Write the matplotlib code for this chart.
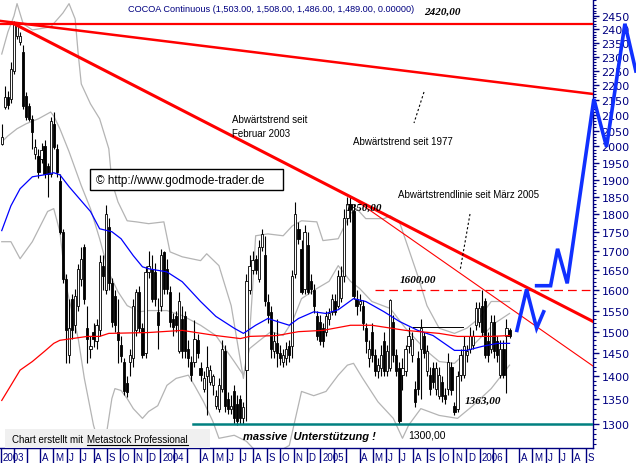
import matplotlib
matplotlib.use('Agg')
import matplotlib.pyplot as plt
import matplotlib.dates as mdates
import matplotlib.transforms as mtransforms
from matplotlib.patches import Rectangle
from matplotlib.ticker import FixedLocator, NullFormatter, FuncFormatter
import numpy as np
import pandas as pd

# weekly candles COCOA continuous, Jan 2003 - Mar 2006
opens = [2008, 2126, 2160, 2153, 2249, 2374, 2352, 2316, 2163, 2130,
         2088, 1977, 1971, 1962, 2002, 1940, 1917, 2072, 1993, 1896,
         1752, 1629, 1446, 1579, 1515, 1562, 1629, 1712, 1508, 1461,
         1500, 1478, 1503, 1662, 1600, 1765, 1617, 1586, 1500, 1470,
         1432, 1385, 1432, 1439, 1503, 1596, 1508, 1450, 1646, 1654,
         1646, 1547, 1560, 1698, 1654, 1596, 1530, 1538, 1455, 1531,
         1538, 1460, 1432, 1432, 1480, 1417, 1373, 1400, 1388, 1380,
         1337, 1331, 1373, 1455, 1350, 1331, 1367, 1340, 1352, 1311,
         1413, 1600, 1650, 1680, 1629, 1710, 1690, 1570, 1547, 1455,
         1474, 1450, 1432, 1439, 1468, 1468, 1640, 1760, 1706, 1604,
         1715, 1622, 1600, 1538, 1523, 1508, 1500, 1530, 1547, 1572,
         1562, 1580, 1636, 1790, 1830, 1810, 1579, 1565, 1560, 1508,
         1439, 1500, 1446, 1410, 1417, 1478, 1410, 1417, 1523, 1446,
         1417, 1402, 1410, 1468, 1446, 1373, 1439, 1461, 1490, 1410,
         1402, 1417, 1373, 1358, 1388, 1360, 1373, 1420, 1337, 1330,
         1402, 1402, 1446, 1461, 1470, 1515, 1523, 1562, 1572, 1478,
         1461, 1523, 1478, 1402, 1461, 1491, 1503]
highs = [2070, 2197, 2180, 2280, 2430, 2425, 2390, 2340, 2175, 2140,
         2100, 2024, 1993, 2010, 2020, 1950, 2094, 2110, 2008, 1917,
         1760, 1641, 1579, 1591, 1604, 1667, 1712, 1719, 1562, 1490,
         1520, 1530, 1690, 1690, 1825, 1790, 1630, 1600, 1579, 1490,
         1440, 1400, 1460, 1579, 1604, 1610, 1520, 1660, 1700, 1690,
         1670, 1580, 1706, 1700, 1680, 1610, 1545, 1550, 1596, 1560,
         1550, 1480, 1445, 1527, 1495, 1430, 1410, 1468, 1425, 1405,
         1370, 1395, 1480, 1470, 1365, 1360, 1380, 1360, 1360, 1345,
         1640, 1690, 1700, 1690, 1730, 1760, 1740, 1590, 1560, 1500,
         1530, 1470, 1460, 1475, 1480, 1650, 1835, 1780, 1730, 1770,
         1750, 1640, 1615, 1550, 1540, 1520, 1550, 1555, 1590, 1590,
         1650, 1660, 1816, 1850, 1850, 1830, 1600, 1590, 1575, 1520,
         1480, 1520, 1460, 1440, 1470, 1500, 1470, 1579, 1540, 1460,
         1430, 1440, 1470, 1510, 1500, 1390, 1455, 1530, 1500, 1470,
         1420, 1430, 1430, 1420, 1400, 1375, 1450, 1430, 1345, 1410,
         1460, 1490, 1470, 1510, 1505, 1570, 1570, 1600, 1580, 1500,
         1540, 1540, 1490, 1480, 1480, 1530, 1508]
lows = [2005, 2120, 2120, 2140, 2240, 2363, 2340, 2120, 2085, 2080,
        1993, 1962, 1905, 1950, 1905, 1850, 1908, 1993, 1908, 1746,
        1617, 1428, 1428, 1484, 1496, 1550, 1610, 1567, 1428, 1440,
        1465, 1460, 1490, 1600, 1590, 1600, 1510, 1500, 1428, 1430,
        1360, 1355, 1400, 1420, 1490, 1500, 1440, 1440, 1630, 1570,
        1560, 1460, 1550, 1590, 1590, 1510, 1490, 1500, 1450, 1440,
        1440, 1420, 1390, 1420, 1440, 1390, 1365, 1317, 1380, 1360,
        1330, 1325, 1365, 1325, 1320, 1320, 1300, 1298, 1300, 1300,
        1305, 1590, 1640, 1640, 1620, 1700, 1560, 1520, 1440, 1440,
        1420, 1425, 1420, 1425, 1430, 1440, 1630, 1720, 1590, 1590,
        1590, 1590, 1545, 1480, 1470, 1465, 1490, 1515, 1540, 1540,
        1555, 1570, 1620, 1770, 1780, 1579, 1540, 1550, 1505, 1450,
        1420, 1430, 1400, 1395, 1400, 1400, 1400, 1410, 1430, 1400,
        1300, 1370, 1400, 1450, 1430, 1335, 1360, 1350, 1440, 1400,
        1360, 1375, 1360, 1350, 1345, 1340, 1360, 1360, 1318, 1325,
        1390, 1395, 1430, 1450, 1460, 1505, 1510, 1490, 1440, 1430,
        1450, 1440, 1430, 1395, 1395, 1363, 1486]
closes = [2030, 2160, 2133, 2256, 2420, 2412, 2374, 2130, 2095, 2088,
          2046, 1999, 1923, 1990, 1917, 1917, 2082, 1999, 1923, 1752,
          1629, 1503, 1508, 1503, 1586, 1654, 1680, 1579, 1484, 1468,
          1484, 1515, 1672, 1636, 1800, 1617, 1523, 1515, 1480, 1445,
          1367, 1365, 1446, 1562, 1596, 1508, 1446, 1646, 1660, 1579,
          1579, 1515, 1690, 1604, 1604, 1523, 1510, 1515, 1572, 1455,
          1455, 1440, 1402, 1484, 1450, 1402, 1395, 1420, 1413, 1400,
          1358, 1380, 1461, 1337, 1330, 1337, 1311, 1305, 1311, 1335,
          1622, 1660, 1676, 1650, 1712, 1745, 1572, 1540, 1461, 1478,
          1450, 1440, 1446, 1461, 1446, 1636, 1800, 1733, 1596, 1752,
          1596, 1604, 1560, 1491, 1478, 1478, 1538, 1545, 1579, 1547,
          1636, 1636, 1790, 1830, 1816, 1586, 1560, 1572, 1520, 1478,
          1461, 1446, 1410, 1425, 1446, 1410, 1455, 1575, 1446, 1410,
          1305, 1417, 1460, 1491, 1484, 1345, 1373, 1508, 1450, 1455,
          1373, 1388, 1417, 1402, 1358, 1350, 1432, 1370, 1325, 1400,
          1446, 1468, 1455, 1491, 1491, 1555, 1555, 1500, 1446, 1446,
          1523, 1455, 1446, 1461, 1402, 1508, 1489]

# indicator lines, sampled at week numbers
blue_wk = [0, 3, 6, 10, 14, 17, 19, 22, 26, 29, 32, 36, 39, 43, 46, 48, 54, 59, 65, 70,
           76, 79, 83, 87, 90, 94, 97, 102, 106, 110, 115, 119, 125, 130, 136, 141, 148,
           152, 157, 162, 166]
blue_ma = [1755, 1824, 1873, 1908, 1914, 1920, 1914, 1879, 1838, 1808, 1760, 1752, 1733,
           1688, 1659, 1654, 1646, 1621, 1572, 1536, 1508, 1496, 1515, 1531, 1524, 1515,
           1531, 1547, 1543, 1552, 1579, 1572, 1547, 1524, 1503, 1491, 1457, 1457, 1466,
           1473, 1473]
red_wk = [0, 3, 6, 10, 14, 17, 19, 23, 28, 32, 35, 48, 59, 70, 78, 81, 90, 97, 105, 114,
          121, 132, 143, 149, 160, 166]
red_ma = [1348, 1380, 1413, 1432, 1455, 1473, 1480, 1484, 1489, 1489, 1496, 1498, 1503,
          1491, 1484, 1489, 1491, 1500, 1503, 1515, 1515, 1503, 1496, 1489, 1489, 1491]
upper_wk = [0, 2, 4, 5, 7, 10, 16, 20, 22, 24, 25, 26, 29, 32, 35, 36, 38, 41, 44, 48, 53,
            55, 59, 65, 67, 71, 75, 79, 81, 82, 83, 87, 92, 95, 98, 103, 105, 110, 114,
            116, 119, 125, 127, 130, 133, 136, 139, 143, 148, 152, 156, 160, 166]
upper_band = [2309, 2389, 2450, 2497, 2420, 2397, 2408, 2461, 2497, 2438, 2309, 2204,
              2137, 2088, 1993, 1893, 1835, 1782, 1779, 1774, 1779, 1698, 1685, 1675,
              1693, 1662, 1562, 1395, 1491, 1604, 1741, 1746, 1741, 1768, 1782, 1779,
              1728, 1733, 1802, 1816, 1788, 1788, 1796, 1779, 1706, 1636, 1562, 1508,
              1496, 1508, 1531, 1572, 1572]
mid_wk = [0, 2, 5, 8, 12, 16, 17, 19, 22, 26, 29, 32, 35, 38, 41, 45, 48, 54, 59, 65, 70,
          76, 79, 81, 84, 88, 92, 95, 98, 103, 107, 110, 114, 117, 121, 127, 132, 139,
          143, 148, 154, 161, 166]
mid_band = [2014, 2033, 2056, 2072, 2088, 2110, 2097, 2056, 1984, 1882, 1816, 1733, 1644,
            1596, 1562, 1547, 1550, 1550, 1538, 1515, 1491, 1432, 1402, 1461, 1478, 1500,
            1491, 1524, 1579, 1604, 1622, 1662, 1622, 1604, 1572, 1555, 1508, 1455, 1432,
            1428, 1468, 1519, 1543]
lower_wk = [0, 3, 6, 10, 15, 17, 19, 21, 25, 27, 30, 32, 34, 36, 37, 39, 41, 43, 46, 48,
            51, 54, 57, 61, 63, 66, 69, 71, 76, 80, 84, 89, 94, 98, 102, 106, 110, 113,
            115, 118, 123, 128, 131, 133, 137, 143, 149, 154, 160, 166]
lower_band = [1725, 1725, 1680, 1725, 1808, 1816, 1752, 1612, 1484, 1395, 1297, 1257,
              1271, 1352, 1373, 1369, 1352, 1331, 1311, 1325, 1337, 1380, 1395, 1402,
              1380, 1345, 1305, 1271, 1277, 1265, 1240, 1240, 1257, 1367, 1358, 1367,
              1402, 1424, 1428, 1395, 1345, 1311, 1271, 1297, 1331, 1317, 1311, 1337,
              1373, 1424]

# hand drawn projection (blue)
proj1_dates = ['2006-03-27', '2006-04-18', '2006-05-11', '2006-05-27']
proj1_vals = [1503, 1602, 1508, 1547]
proj2_dates = ['2006-05-11', '2006-06-12', '2006-06-28', '2006-07-20',
               '2006-09-19', '2006-10-18', '2006-11-29', '2006-12-24']
proj2_vals = [1611, 1611, 1706, 1617, 2153, 1999, 2420, 2249]

W, H = 636, 464
NAVY = '#000080'
fig = plt.figure(figsize=(W / 100, H / 100), dpi=100)
ax = fig.add_axes([0, 15 / H, 593 / W, 449 / H])

def px(x, y):
    return x / W, 1 - y / H

weeks = mdates.date2num(pd.date_range('2003-01-03', periods=len(closes), freq='W-FRI'))
o, h, l, c = map(np.array, (opens, highs, lows, closes))

xmin = mdates.datestr2num('2002-12-30')
xmax = xmin + 1357
ax.set_yscale('log')
ax.set_xlim(xmin, xmax)
ax.set_ylim(1252, 2515)

# bands and averages
gray = '#b4b4b4'
ax.plot(weeks[upper_wk], upper_band, color=gray, lw=0.9, zorder=1)
ax.plot(weeks[mid_wk], mid_band, color=gray, lw=0.9, zorder=1)
ax.plot(weeks[lower_wk], lower_band, color=gray, lw=0.9, zorder=1)

# candles
up = c >= o
ax.vlines(weeks, l, h, color='black', lw=0.8, zorder=2)
ax.bar(weeks, np.maximum(np.abs(c - o), 1), bottom=np.minimum(o, c), width=5,
       color=np.where(up, 'white', 'black'), edgecolor='black', lw=0.6, zorder=3)

ax.plot(weeks[blue_wk], blue_ma, color='#0000ff', lw=0.9, zorder=4)
ax.plot(weeks[red_wk], red_ma, color='#ff0000', lw=0.9, zorder=4)

# trend lines
ax.axhline(2420, color='#ff0000', lw=1.6, zorder=5)
ax.plot([xmin, xmax], [2431, 2170], color='#ff0000', lw=1.8, zorder=5)
ax.plot([weeks[4], xmax], [2420, 1524], color='#ff0000', lw=2.2, zorder=5)
ax.plot([weeks[114], xmax], [1850, 1422], color='#ff0000', lw=0.8, zorder=5)
ax.plot([mdates.datestr2num('2005-05-06'), xmax], [1600, 1600], color='#ff0000', lw=0.9,
        dashes=(7, 4), zorder=5)
ax.plot([mdates.datestr2num('2004-03-16'), xmax], [1300, 1300], color='#008080', lw=1.8, zorder=5)
ax.plot(mdates.datestr2num(['2005-07-31', '2005-11-24']), [1512, 1512], color='black', lw=0.7, zorder=5)

ax.plot(mdates.datestr2num(proj1_dates), proj1_vals, color='#1030ff', lw=2.6,
        zorder=6, clip_on=False, solid_joinstyle='miter')
ax.plot(mdates.datestr2num(proj2_dates), proj2_vals, color='#1030ff', lw=2.6,
        zorder=6, clip_on=False, solid_joinstyle='miter')

# axes look
for s in ('top', 'left'):
    ax.spines[s].set_visible(False)
for s in ('right', 'bottom'):
    ax.spines[s].set_color(NAVY)
    ax.spines[s].set_linewidth(1)

ax.yaxis.tick_right()
ax.yaxis.set_major_locator(FixedLocator(range(1300, 2451, 50)))
ax.yaxis.set_major_formatter(FuncFormatter(lambda v, p: f'{v:.0f}'))
ax.yaxis.set_minor_locator(FixedLocator([v for v in range(1260, 2511, 10) if v % 50]))
ax.yaxis.set_minor_formatter(NullFormatter())
ax.tick_params(axis='y', which='major', direction='out', length=4, width=1, colors=NAVY,
               labelsize=8, pad=2)
ax.tick_params(axis='y', which='minor', direction='out', length=2.5, width=0.8, colors=NAVY)

months = pd.date_range('2003-01-01', '2006-09-01', freq='MS')
ax.xaxis.set_major_locator(FixedLocator(mdates.date2num(months)))
ax.xaxis.set_major_formatter(NullFormatter())
ax.xaxis.set_minor_locator(FixedLocator([]))
ax.tick_params(axis='x', which='major', direction='out', length=11, width=1, colors=NAVY)
trans = mtransforms.blended_transform_factory(ax.transData, ax.transAxes)
for m in months:
    if m.month == 1:
        lab = str(m.year)
    elif m.month in (2, 3):
        continue
    else:
        lab = m.strftime('%B')[0]
    ax.text(mdates.date2num(m) + 4, -9 / 449, lab, transform=trans, ha='left', va='center',
            fontsize=7, color=NAVY, family='Liberation Sans')

# texts
sans = 'Liberation Sans'
serif = 'Liberation Serif'
fig.text(*px(128, 10), 'COCOA Continuous (1,503.00, 1,508.00, 1,486.00, 1,489.00, 0.00000)',
         fontsize=6.6, color=NAVY, family=sans, va='center')
fig.text(*px(424, 12), '2420,00', fontsize=8, weight='bold', style='italic', family=serif, va='center')
fig.text(*px(232, 120), 'Abwärtstrend seit', fontsize=7, family=sans, va='center')
fig.text(*px(232, 134), 'Februar 2003', fontsize=7, family=sans, va='center')
fig.text(*px(353, 142), 'Abwärtstrend seit 1977', fontsize=7, family=sans, va='center')
fig.text(*px(398, 195), 'Abwärtstrendlinie seit März 2005', fontsize=7, family=sans, va='center')
fig.text(*px(346, 208), '1850,00', fontsize=8, weight='bold', style='italic', family=serif, va='center')
fig.text(*px(400, 280), '1600,00', fontsize=8, weight='bold', style='italic', family=serif, va='center')
fig.text(*px(465, 401), '1363,00', fontsize=8, weight='bold', style='italic', family=serif, va='center')
fig.text(*px(408, 436), '1300,00', fontsize=7.5, family=sans, va='center')
fig.text(*px(243, 437), 'massive  Unterstützung !', fontsize=8, weight='bold', style='italic',
         family=sans, va='center')

# pointer lines
for (x0, y0), (x1, y1) in [((424, 93), (414, 124)), ((470, 215), (460, 272))]:
    fig.add_artist(plt.Line2D([x0 / W, x1 / W], [1 - y0 / H, 1 - y1 / H], color='black',
                              lw=0.8, dashes=(2, 2), transform=fig.transFigure))

# copyright box
fig.add_artist(Rectangle(px(90, 191), 193 / W, 21 / H, transform=fig.transFigure,
                         facecolor='white', edgecolor='black', lw=1, zorder=5))
fig.text(*px(96, 181), '© http://www.godmode-trader.de', fontsize=8.5, family=sans,
         va='center', zorder=6)

# footer credit
fig.add_artist(Rectangle(px(5, 449), 205 / W, 19 / H, transform=fig.transFigure,
                         facecolor='#f0f0f0', edgecolor='none', zorder=5))
t1 = fig.text(*px(12, 440), 'Chart erstellt mit', fontsize=7, family=sans, va='center', zorder=6)
fig.canvas.draw()
r = fig.canvas.get_renderer()
bb1 = t1.get_window_extent(r)
t2 = fig.text((bb1.x1 + 4) / W, 1 - 440 / H, 'Metastock Professional', fontsize=7, family=sans,
              va='center', zorder=6)
bb2 = t2.get_window_extent(r)
fig.add_artist(plt.Line2D([bb2.x0 / W, bb2.x1 / W], [(bb2.y0 - 0.5) / H] * 2, color='black',
                          lw=0.8, transform=fig.transFigure, zorder=6))

fig.savefig('out.png', dpi=100)
